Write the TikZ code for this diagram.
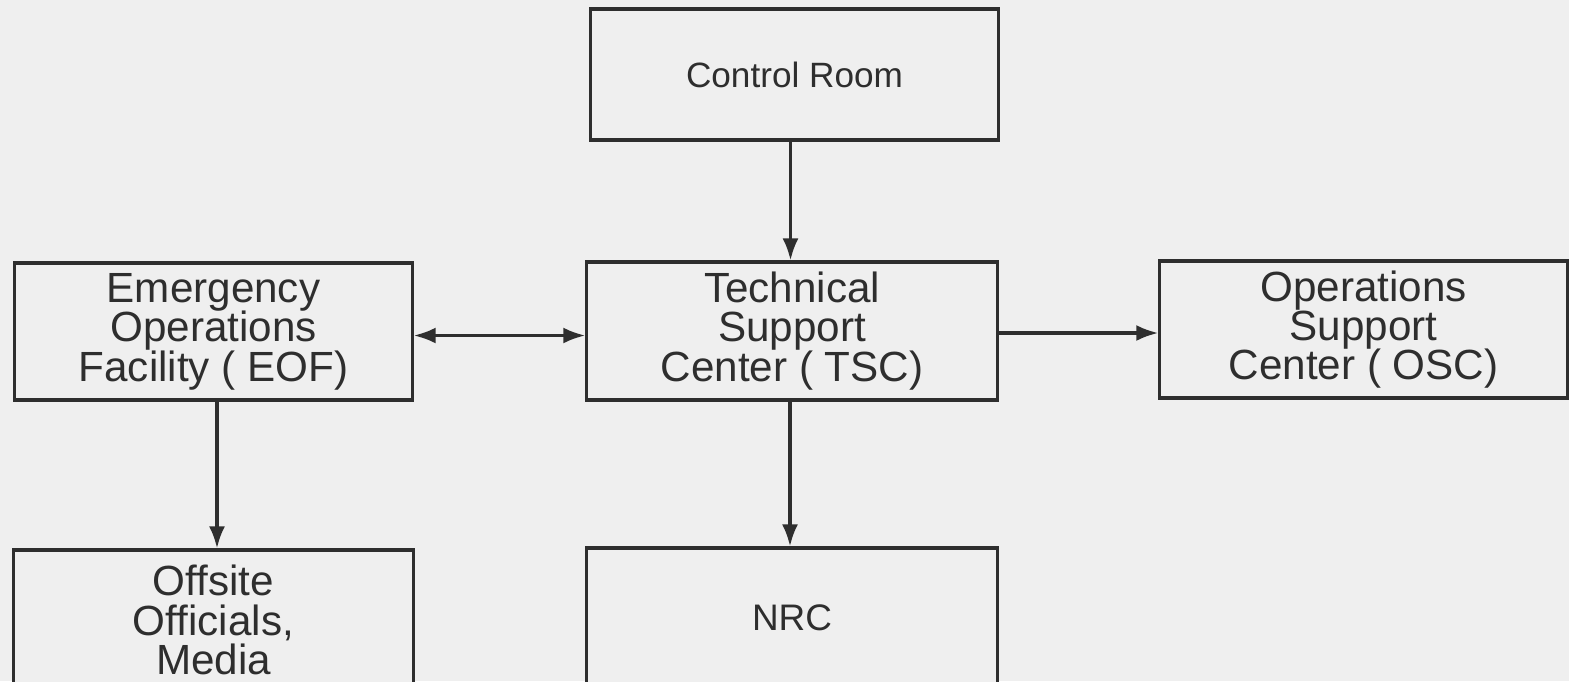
\documentclass[tikz,border=0pt]{standalone}
\usepackage{fontspec}
\setmainfont{Liberation Sans}
\usetikzlibrary{arrows.meta}
\definecolor{bg}{HTML}{EFEFEF}
\definecolor{ink}{HTML}{2E2E2E}
\begin{document}
\begin{tikzpicture}[x=0.01cm,y=-0.01cm,
  box/.style={draw=ink, line width=0.9pt, fill=bg, text=ink, align=center, inner sep=0pt,
    font=\fontsize{12}{11.2}\selectfont},
  conn/.style={draw=ink, line width=0.9pt, -{Latex[length=2.2mm,width=1.6mm]}},
  biconn/.style={draw=ink, line width=0.9pt, {Latex[length=2.2mm,width=1.6mm]}-{Latex[length=2.2mm,width=1.6mm]}}]
\fill[bg] (0,0) rectangle (1569,681);
\useasboundingbox (0,0) rectangle (1569,681);
\begin{scope}
\clip (0,0) rectangle (1569,681);
\node[box, minimum width=4.07cm, minimum height=1.31cm, font=\fontsize{10}{12}\selectfont] (cr) at (794.5,74.5) {Control Room};
\node[box, minimum width=3.97cm, minimum height=1.37cm] (eof) at (213.5,331.5) {Emergency\\Operations\\Facility ( EOF)};
\node[box, minimum width=4.10cm, minimum height=1.38cm] (tsc) at (792,331) {Technical\\Support\\Center ( TSC)};
\node[box, minimum width=4.07cm, minimum height=1.37cm] (osc) at (1363.5,329.5) {Operations\\Support\\Center ( OSC)};
\node[box, minimum width=3.99cm, minimum height=1.40cm] (off) at (213.5,620) {Offsite\\Officials,\\Media};
\node[box, minimum width=4.10cm, minimum height=1.40cm, font=\fontsize{10.5}{12}\selectfont] (nrc) at (792,618) {NRC};
\draw[conn] ([xshift=-0.04cm]cr.south) -- ([xshift=-0.04cm]cr.south |- tsc.north);
\draw[conn] ([xshift=-0.02cm]tsc.south) -- ([xshift=-0.02cm]tsc.south |- nrc.north);
\draw[conn] ([xshift=0.035cm]eof.south) -- ([xshift=0.035cm]eof.south |- off.north);
\draw[biconn] ([yshift=-0.04cm]eof.east) -- ([yshift=-0.04cm]eof.east -| tsc.west);
\draw[conn] ([yshift=-0.02cm]tsc.east) -- ([yshift=-0.02cm]tsc.east -| osc.west);
\end{scope}
\end{tikzpicture}
\end{document}
